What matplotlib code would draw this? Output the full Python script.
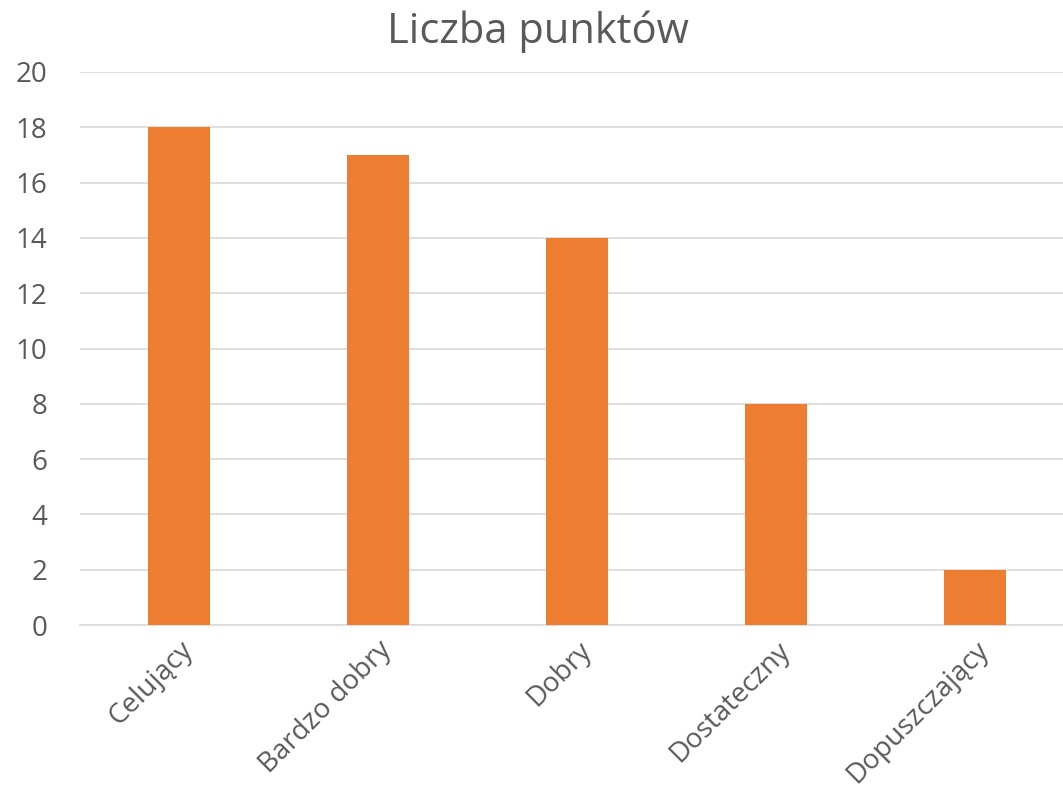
import matplotlib
matplotlib.use("Agg")
import matplotlib.pyplot as plt

categories = ["Celujący", "Bardzo dobry", "Dobry", "Dostateczny", "Dopuszczający"]
values = [18, 17, 14, 8, 2]
yticks = [0, 2, 4, 6, 8, 10, 12, 14, 16, 18, 20]

plt.rcParams['font.family'] = ['Open Sans', 'DejaVu Sans']

W, H = 1063, 793
fig = plt.figure(figsize=(W/100, H/100), dpi=100)
ax = fig.add_axes([79.5/W, (H-625)/H, 995/W, (625-72)/H])

x = range(len(categories))
ax.bar(x, values, width=0.31, color="#ED7D31", zorder=3)
ax.set_xlim(-0.5, len(categories)-0.5)
ax.set_ylim(0, 20)
ax.set_yticks(yticks)
ax.set_yticklabels([str(v) for v in yticks], fontsize=20, color="#595959")
ax.set_xticks(list(x))
ax.set_xticklabels(categories, rotation=45, ha="right", rotation_mode="anchor",
                   fontsize=20, color="#595959")
ax.tick_params(axis="both", length=0)
ax.tick_params(axis="x", pad=8)
ax.tick_params(axis="y", pad=23)
ax.grid(axis="y", color="#D9D9D9", linewidth=1.2, zorder=0)
for s in ["top", "right", "left"]:
    ax.spines[s].set_visible(False)
ax.spines["bottom"].set_color("#D9D9D9")
ax.spines["bottom"].set_linewidth(1.2)

fig.text(538/W, 1 - 43/H, "Liczba punktów", ha="center", va="baseline",
         fontsize=30, color="#595959")

fig.savefig("out.png", dpi=100)
